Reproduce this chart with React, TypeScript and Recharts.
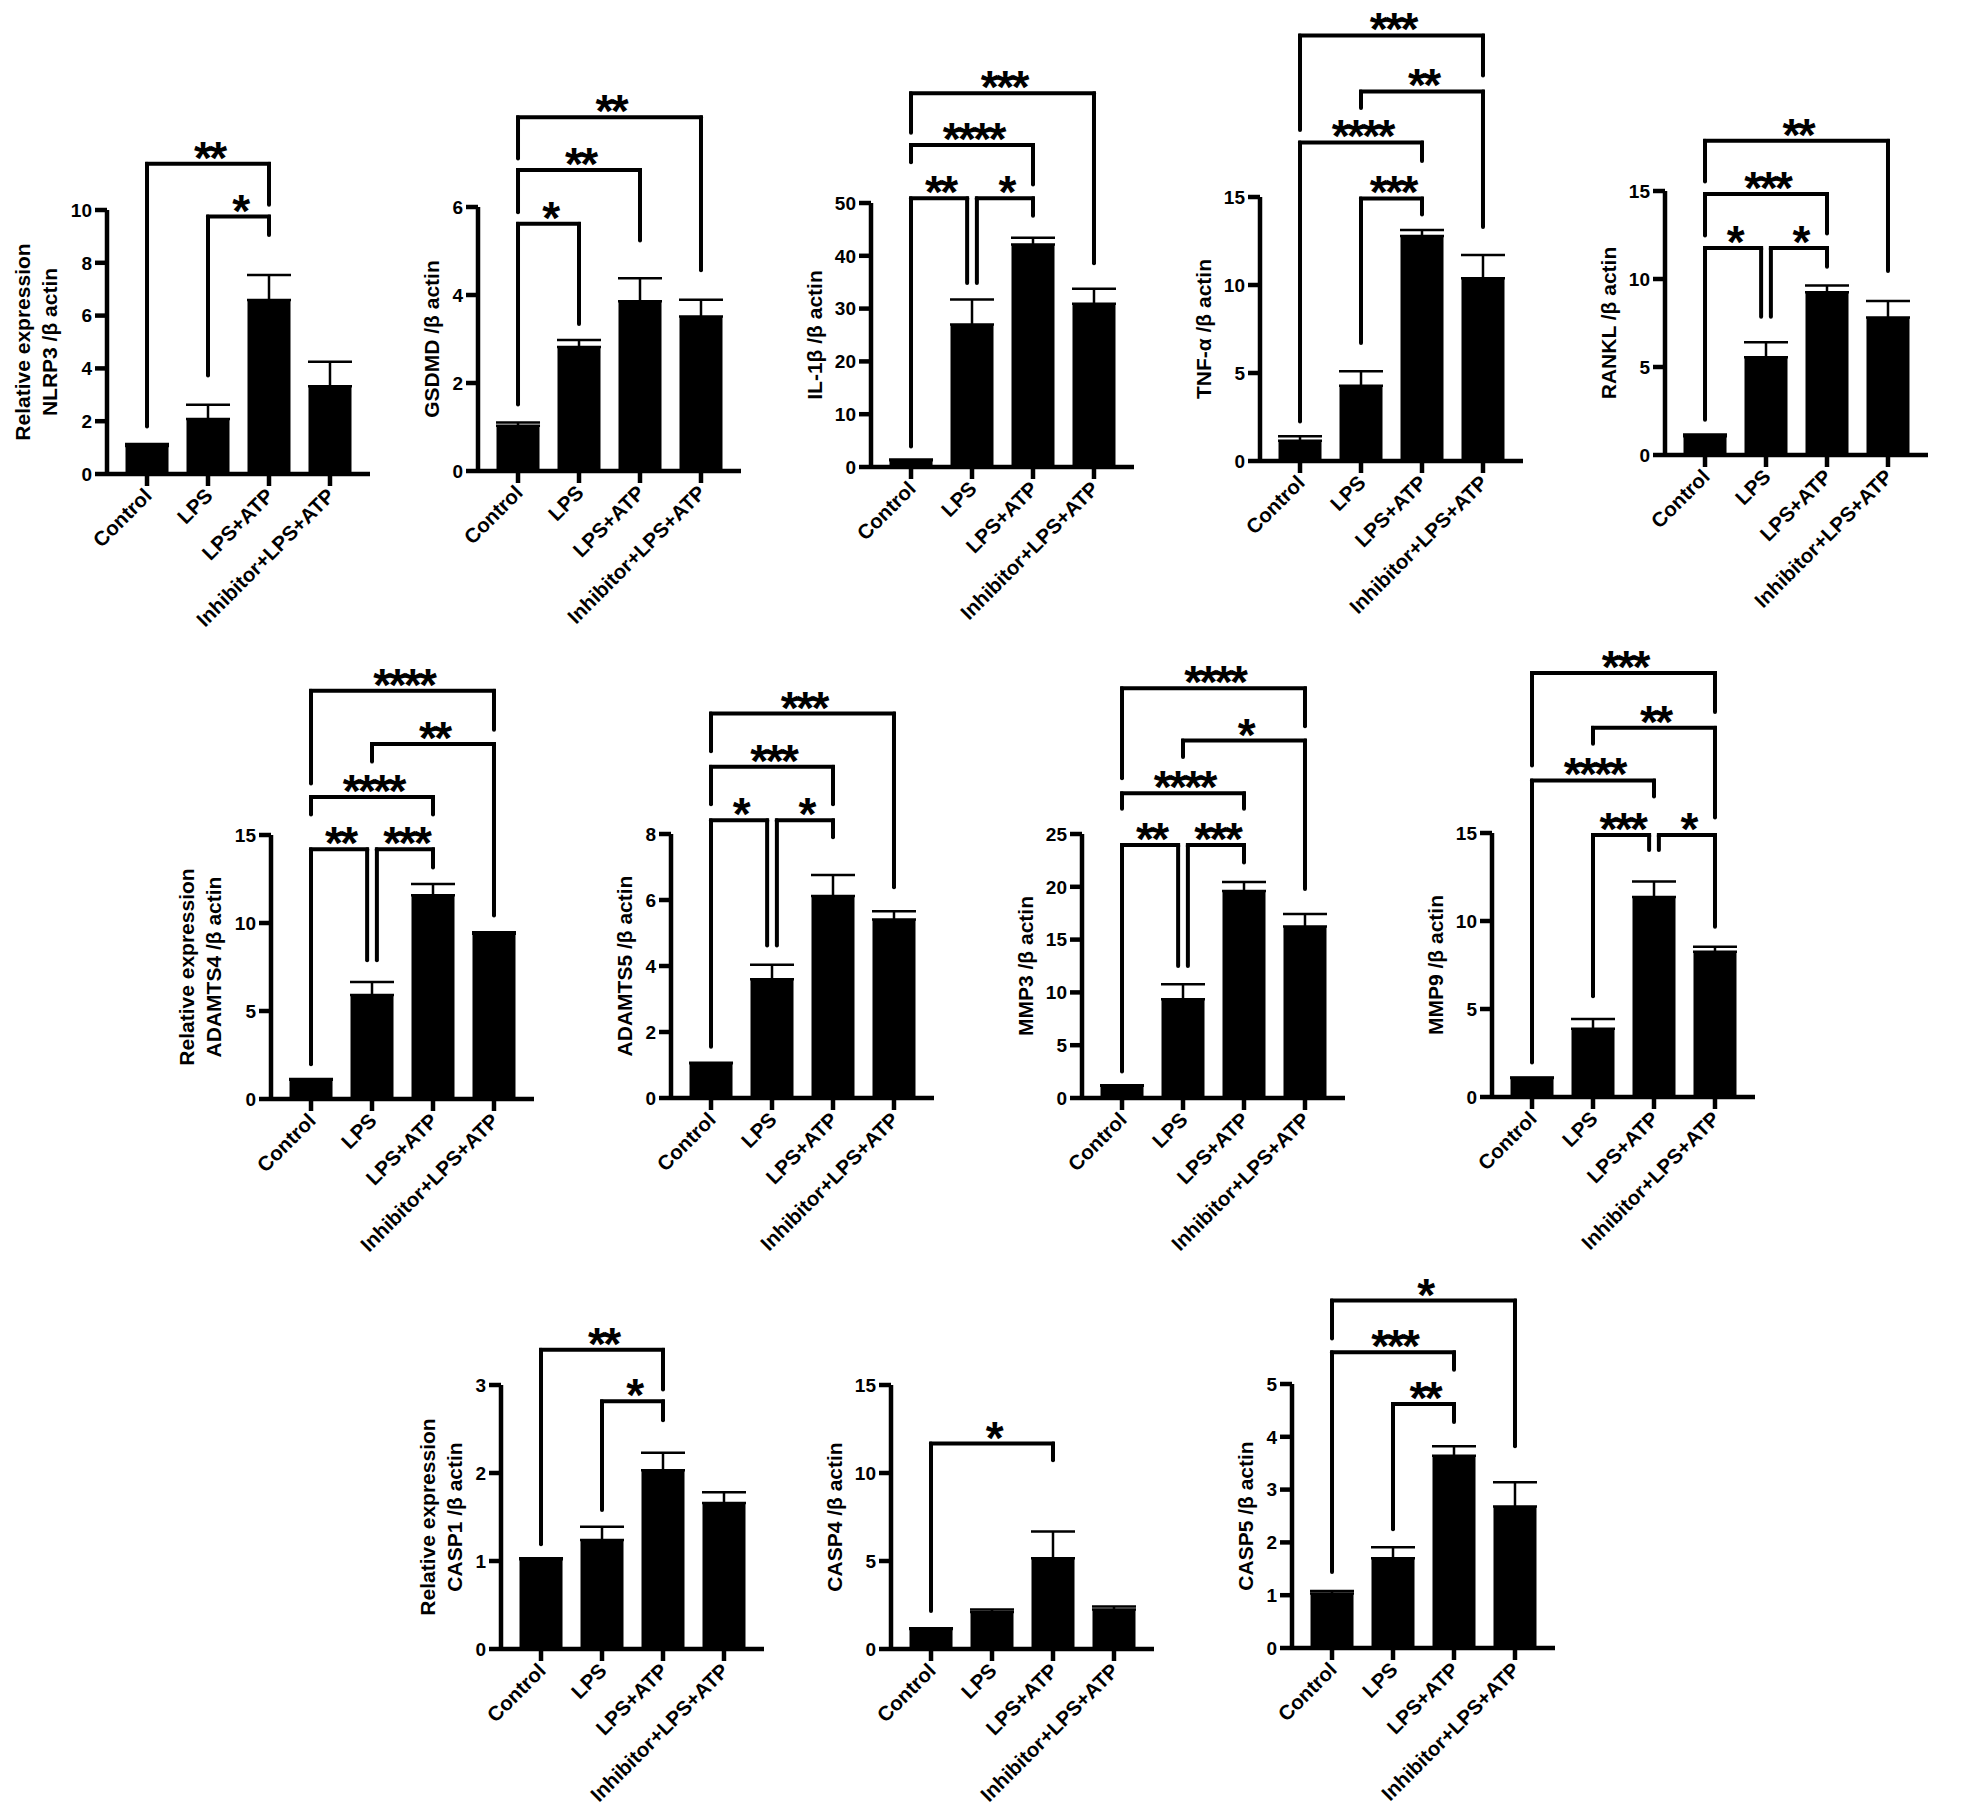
import React from 'react';
import { BarChart, Bar, XAxis, YAxis, ErrorBar, ReferenceLine } from 'recharts';

// ---------- categories ----------
const groups = ['Control', 'LPS', 'LPS+ATP', 'Inhibitor+LPS+ATP'];
const groupX = [0, 1, 2, 3];

// ---------- series values (mean, SEM) ----------
const nlrp3Mean = [1.06, 2.08, 6.59, 3.32];
const nlrp3Err = [0.08, 0.54, 0.95, 0.93];
const gsdmdMean = [1.03, 2.82, 3.86, 3.51];
const gsdmdErr = [0.07, 0.16, 0.52, 0.38];
const il1bMean = [1.3, 27.0, 42.15, 30.9];
const il1bErr = [0.1, 4.7, 1.25, 2.85];
const tnfMean = [1.15, 4.27, 12.78, 10.38];
const tnfErr = [0.25, 0.83, 0.35, 1.33];
const ranklMean = [1.06, 5.56, 9.25, 7.81];
const ranklErr = [0.1, 0.85, 0.38, 0.94];
const adamts4Mean = [1.09, 5.91, 11.57, 9.39];
const adamts4Err = [0.04, 0.74, 0.65, 0.09];
const adamts5Mean = [1.05, 3.6, 6.12, 5.41];
const adamts5Err = [0.02, 0.44, 0.64, 0.25];
const mmp3Mean = [1.15, 9.35, 19.6, 16.23];
const mmp3Err = [0.05, 1.42, 0.86, 1.19];
const mmp9Mean = [1.08, 3.88, 11.36, 8.25];
const mmp9Err = [0.03, 0.55, 0.89, 0.29];
const casp1Mean = [1.02, 1.24, 2.03, 1.66];
const casp1Err = [0.01, 0.15, 0.2, 0.12];
const casp4Mean = [1.14, 2.1, 5.16, 2.25];
const casp4Err = [0.04, 0.15, 1.51, 0.16];
const casp5Mean = [1.03, 1.7, 3.64, 2.68];
const casp5Err = [0.05, 0.21, 0.18, 0.46];

// ---------- tick labels ----------
const nlrp3Ticks = [0, 2, 4, 6, 8, 10];
const gsdmdTicks = [0, 2, 4, 6];
const il1bTicks = [0, 10, 20, 30, 40, 50];
const tnfTicks = [0, 5, 10, 15];
const ranklTicks = [0, 5, 10, 15];
const adamts4Ticks = [0, 5, 10, 15];
const adamts5Ticks = [0, 2, 4, 6, 8];
const mmp3Ticks = [0, 5, 10, 15, 20, 25];
const mmp9Ticks = [0, 5, 10, 15];
const casp1Ticks = [0, 1, 2, 3];
const casp4Ticks = [0, 5, 10, 15];
const casp5Ticks = [0, 1, 2, 3, 4, 5];

// ---------- significance brackets: [fromX, toX, level, leftLegEnd, rightLegEnd, stars] ----------
type Br = [number, number, number, number, number, string];
const nlrp3Brackets: Br[] = [
  [1, 2, 9.75, 3.73, 9.05, '*'],
  [0, 2, 11.75, 1.8, 10.2, '**'],
];
const gsdmdBrackets: Br[] = [
  [0, 1, 5.62, 1.51, 3.34, '*'],
  [0, 2, 6.84, 5.88, 5.24, '**'],
  [0, 3, 8.04, 7.1, 4.56, '**'],
];
const il1bBrackets: Br[] = [
  [0, 0.92, 50.9, 3.9, 34.85, '**'],
  [1.08, 2, 50.9, 34.85, 47.6, '*'],
  [0, 2, 61.0, 57.7, 53.5, '****'],
  [0, 3, 70.8, 63.3, 38.6, '***'],
];
const tnfBrackets: Br[] = [
  [1, 2, 14.92, 6.7, 14.0, '***'],
  [0, 2, 18.1, 2.25, 17.05, '****'],
  [1, 3, 21.0, 20.05, 13.3, '**'],
  [0, 3, 24.18, 18.8, 21.9, '***'],
];
const ranklBrackets: Br[] = [
  [0, 0.92, 11.76, 2.0, 7.85, '*'],
  [1.08, 2, 11.76, 7.85, 10.69, '*'],
  [0, 2, 14.83, 12.47, 12.59, '***'],
  [0, 3, 17.86, 15.54, 10.46, '**'],
];
const adamts4Brackets: Br[] = [
  [0, 0.92, 14.19, 1.97, 7.88, '**'],
  [1.08, 2, 14.19, 7.88, 13.15, '***'],
  [0, 2, 17.16, 16.16, 16.16, '****'],
  [1, 3, 20.17, 19.17, 10.43, '**'],
  [0, 3, 23.19, 17.92, 20.98, '****'],
];
const adamts5Brackets: Br[] = [
  [0, 0.92, 8.42, 1.55, 4.62, '*'],
  [1.08, 2, 8.42, 4.62, 7.9, '*'],
  [0, 2, 10.04, 8.9, 8.9, '***'],
  [0, 3, 11.65, 10.51, 6.39, '***'],
];
const mmp3Brackets: Br[] = [
  [0, 0.92, 23.96, 2.5, 12.5, '**'],
  [1.08, 2, 23.96, 12.5, 22.3, '***'],
  [0, 2, 28.85, 27.4, 27.4, '****'],
  [1, 3, 33.85, 32.3, 19.8, '*'],
  [0, 3, 38.8, 30.27, 35.2, '****'],
];
const mmp9Brackets: Br[] = [
  [1, 1.92, 14.88, 5.72, 14.04, '***'],
  [2.08, 3, 14.88, 14.04, 9.67, '*'],
  [0, 2, 17.99, 1.96, 17.08, '****'],
  [1, 3, 20.98, 20.07, 15.88, '**'],
  [0, 3, 24.09, 18.83, 21.87, '***'],
];
const casp1Brackets: Br[] = [
  [1, 2, 2.815, 1.58, 2.6, '*'],
  [0, 2, 3.4, 1.19, 2.95, '**'],
];
const casp4Brackets: Br[] = [[0, 2, 11.67, 2.16, 10.73, '*']];
const casp5Brackets: Br[] = [
  [1, 2, 4.62, 2.25, 4.28, '**'],
  [0, 2, 5.6, 1.44, 5.27, '***'],
  [0, 3, 6.58, 5.86, 3.82, '*'],
];

// ---------- layout / style ----------
const FONT = '"Liberation Sans", Arial, Helvetica, sans-serif';
const PLOT_W = 263;
const PLOT_H = 264;
const YW = 100;
const TOP = 240;
const BOTTOM = 190;
const RIGHT = 30;
const AXIS_W = 4.5;
const BR_W = 4;

const panels = [
  { id: 'nlrp3', label: ['Relative expression', 'NLRP3 /β actin'], mean: nlrp3Mean, err: nlrp3Err, max: 10, ticks: nlrp3Ticks, br: nlrp3Brackets, axisX: 107, y0: 474, digits: 2 },
  { id: 'gsdmd', label: ['GSDMD /β actin'], mean: gsdmdMean, err: gsdmdErr, max: 6, ticks: gsdmdTicks, br: gsdmdBrackets, axisX: 478, y0: 471, digits: 1 },
  { id: 'il1b', label: ['IL-1β /β actin'], mean: il1bMean, err: il1bErr, max: 50, ticks: il1bTicks, br: il1bBrackets, axisX: 871, y0: 467, digits: 2 },
  { id: 'tnf', label: ['TNF-α /β actin'], mean: tnfMean, err: tnfErr, max: 15, ticks: tnfTicks, br: tnfBrackets, axisX: 1260, y0: 461, digits: 2 },
  { id: 'rankl', label: ['RANKL /β actin'], mean: ranklMean, err: ranklErr, max: 15, ticks: ranklTicks, br: ranklBrackets, axisX: 1665, y0: 455, digits: 2 },
  { id: 'adamts4', label: ['Relative expression', 'ADAMTS4 /β actin'], mean: adamts4Mean, err: adamts4Err, max: 15, ticks: adamts4Ticks, br: adamts4Brackets, axisX: 271, y0: 1099, digits: 2 },
  { id: 'adamts5', label: ['ADAMTS5 /β actin'], mean: adamts5Mean, err: adamts5Err, max: 8, ticks: adamts5Ticks, br: adamts5Brackets, axisX: 671, y0: 1098, digits: 1 },
  { id: 'mmp3', label: ['MMP3 /β actin'], mean: mmp3Mean, err: mmp3Err, max: 25, ticks: mmp3Ticks, br: mmp3Brackets, axisX: 1082, y0: 1097.5, digits: 2 },
  { id: 'mmp9', label: ['MMP9 /β actin'], mean: mmp9Mean, err: mmp9Err, max: 15, ticks: mmp9Ticks, br: mmp9Brackets, axisX: 1492, y0: 1096.5, digits: 2 },
  { id: 'casp1', label: ['Relative expression', 'CASP1 /β actin'], mean: casp1Mean, err: casp1Err, max: 3, ticks: casp1Ticks, br: casp1Brackets, axisX: 501, y0: 1649, digits: 1 },
  { id: 'casp4', label: ['CASP4 /β actin'], mean: casp4Mean, err: casp4Err, max: 15, ticks: casp4Ticks, br: casp4Brackets, axisX: 891, y0: 1648.5, digits: 2 },
  { id: 'casp5', label: ['CASP5 /β actin'], mean: casp5Mean, err: casp5Err, max: 5, ticks: casp5Ticks, br: casp5Brackets, axisX: 1292, y0: 1648, digits: 1 },
];

const XTick = (props: any) => {
  const { x, y, payload } = props;
  const ax = x + 6;
  const ay = y + 11;
  return (
    <text
      x={ax}
      y={ay}
      transform={`rotate(-45 ${ax} ${ay})`}
      textAnchor="end"
      fontFamily={FONT}
      fontWeight={700}
      fontSize={20.5}
      fill="#000"
    >
      {groups[payload.value]}
    </text>
  );
};

const starContent = (s: string) => (props: any) => {
  const vb = props.viewBox || {};
  const cx = (vb.x || 0) + (vb.width || 0) / 2 + 1.3;
  return (
    <text
      x={cx}
      y={(vb.y || 0) + 10}
      textAnchor="middle"
      fontFamily={FONT}
      fontWeight={700}
      fontSize={46}
      letterSpacing={-2.6}
      fill="#000"
    >
      {s}
    </text>
  );
};

function bracketLines(id: string, br: Br[]) {
  const out: any[] = [];
  br.forEach((b, i) => {
    const [a, c, top, la, ra, s] = b;
    out.push(
      <ReferenceLine
        key={`${id}-l${i}`}
        segment={[{ x: a, y: la }, { x: a, y: top }]}
        stroke="#000"
        strokeWidth={BR_W}
        strokeLinecap="round"
        ifOverflow="visible"
      />
    );
    out.push(
      <ReferenceLine
        key={`${id}-r${i}`}
        segment={[{ x: c, y: ra }, { x: c, y: top }]}
        stroke="#000"
        strokeWidth={BR_W}
        strokeLinecap="round"
        ifOverflow="visible"
      />
    );
    out.push(
      <ReferenceLine
        key={`${id}-t${i}`}
        segment={[{ x: a, y: top }, { x: c, y: top }]}
        stroke="#000"
        strokeWidth={BR_W}
        strokeLinecap="square"
        ifOverflow="visible"
        label={{ content: starContent(s) }}
      />
    );
  });
  return out;
}

function Panel({ p }: { p: any }) {
  const data = groupX.map((x, i) => ({ x, v: p.mean[i], e: [0, p.err[i]] }));
  return (
    <div style={{ position: 'absolute', left: p.axisX - YW, top: p.y0 - PLOT_H - TOP }}>
      <BarChart
        width={YW + PLOT_W + RIGHT}
        height={TOP + PLOT_H + BOTTOM}
        data={data}
        margin={{ top: TOP, right: RIGHT, bottom: 0, left: 0 }}
      >
        <XAxis
          type="number"
          dataKey="x"
          domain={[-0.656, 3.656]}
          ticks={groupX}
          interval={0}
          allowDataOverflow
          height={BOTTOM}
          axisLine={{ stroke: '#000', strokeWidth: AXIS_W }}
          tickLine={{ stroke: '#000', strokeWidth: AXIS_W }}
          tickSize={12}
          tickMargin={0}
          tick={<XTick />}
        />
        <YAxis
          type="number"
          domain={[0, p.max]}
          ticks={p.ticks}
          interval={0}
          allowDataOverflow
          width={YW}
          axisLine={{ stroke: '#000', strokeWidth: AXIS_W }}
          tickLine={{ stroke: '#000', strokeWidth: AXIS_W }}
          tickSize={12}
          tickMargin={3}
          tick={{ fill: '#000', fontSize: 19, fontWeight: 700, fontFamily: FONT }}
        />
        <Bar dataKey="v" fill="#000" barSize={43} isAnimationActive={false}>
          <ErrorBar dataKey="e" width={22} stroke="#000" strokeWidth={2.5} direction="y" />
        </Bar>
        {bracketLines(p.id, p.br)}
      </BarChart>
    </div>
  );
}

function YLabel({ p }: { p: any }) {
  const inner = p.digits === 2 ? 57.5 : 47;
  const cx = p.axisX - inner - ((p.label.length - 1) * 27) / 2;
  const cy = p.y0 - PLOT_H / 2;
  return (
    <div
      style={{
        position: 'absolute',
        left: cx,
        top: cy,
        transform: 'translate(-50%, -50%) rotate(-90deg)',
        whiteSpace: 'nowrap',
        fontFamily: FONT,
        fontWeight: 700,
        fontSize: 21,
        lineHeight: '27px',
        textAlign: 'center',
        color: '#000',
      }}
    >
      {p.label.map((l: string, i: number) => (
        <div key={i}>{l}</div>
      ))}
    </div>
  );
}

export default function App() {
  return (
    <div
      style={{
        position: 'absolute',
        left: 0,
        top: 0,
        width: 1961,
        height: 1812,
        background: '#fff',
        overflow: 'hidden',
      }}
    >
      {panels.map((p) => (
        <Panel key={p.id} p={p} />
      ))}
      {panels.map((p) => (
        <YLabel key={`lab-${p.id}`} p={p} />
      ))}
    </div>
  );
}
